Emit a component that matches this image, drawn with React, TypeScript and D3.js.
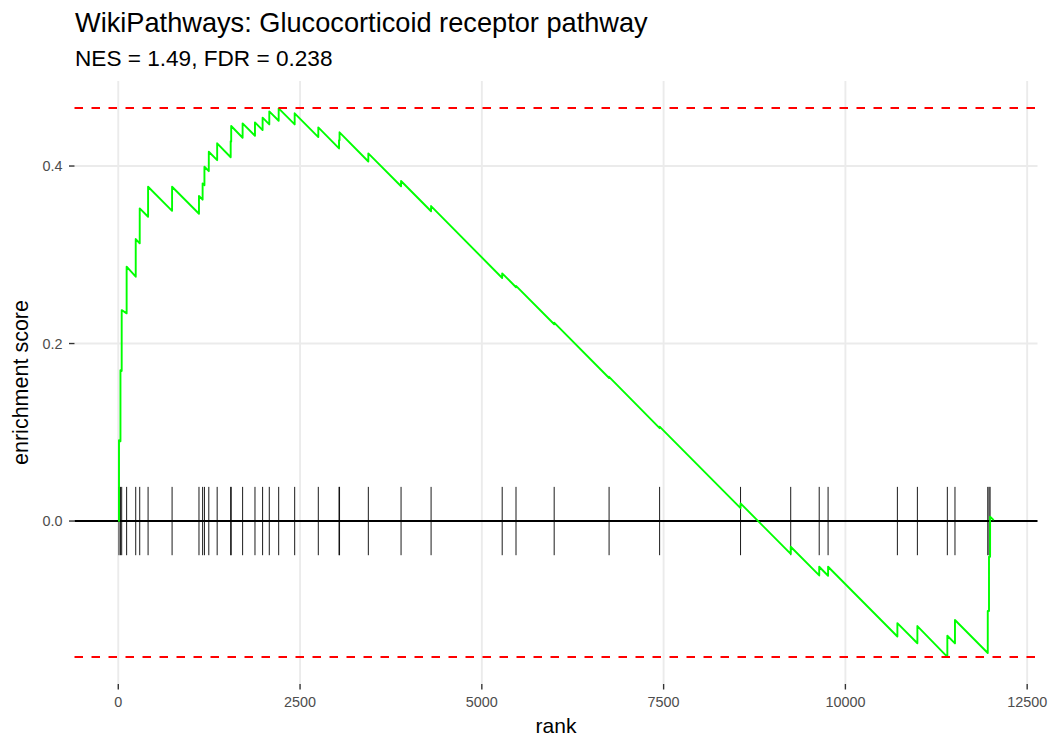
import React from 'react';
import * as d3 from 'd3';

// Gene set hit positions (rank)
const hitRanks = [10, 30, 47, 115, 240, 295, 410, 740, 1110, 1160, 1185, 1245, 1360, 1546, 1553, 1710, 1880, 1985, 2077, 2206, 2426, 2751, 3036, 3043, 3439, 3889, 4302, 5280, 5470, 5995, 6750, 7445, 8558, 9248, 9640, 9762, 10715, 10990, 11402, 11507, 11958, 11975, 11990];
// Running enrichment score just before each hit
const esBeforeHit = [0.0, 0.090, 0.169, 0.234, 0.2753, 0.3129, 0.3429, 0.3495, 0.3462, 0.3621, 0.3784, 0.3942, 0.4066, 0.4099, 0.4277, 0.4319, 0.4341, 0.4405, 0.4469, 0.4510, 0.4469, 0.4326, 0.4198, 0.4289, 0.4051, 0.3772, 0.3490, 0.2738, 0.2634, 0.2217, 0.1612, 0.1047, 0.0145, -0.0370, -0.0613, -0.0616, -0.1301, -0.1377, -0.1530, -0.1379, -0.1487, -0.1014, -0.0402];
// Running enrichment score just after each hit
const esAfterHit = [0.091, 0.170, 0.2377, 0.2866, 0.3177, 0.3523, 0.3767, 0.3767, 0.3662, 0.3805, 0.3992, 0.4161, 0.4256, 0.4280, 0.4451, 0.4481, 0.4492, 0.4545, 0.4616, 0.4650, 0.4594, 0.4436, 0.4290, 0.4380, 0.4143, 0.3831, 0.3549, 0.2791, 0.2650, 0.2235, 0.1625, 0.1063, 0.0199, -0.0290, -0.0515, -0.0515, -0.1150, -0.1183, -0.1292, -0.1115, -0.1014, -0.0402, 0.0050];
const totalGenes = 12040;
const esEnd = 0.001;

const maxES = 0.4654;
const minES = -0.1532;
const tickHalfHeight = 0.0385;

const xTicks = [0, 2500, 5000, 7500, 10000, 12500];
const yTicks = [0.0, 0.2, 0.4];

const titleText = 'WikiPathways: Glucocorticoid receptor pathway';
const subtitleText = 'NES = 1.49, FDR = 0.238';
const xTitle = 'rank';
const yTitle = 'enrichment score';

const W = 1050;
const H = 750;
const FONT = '"Liberation Sans", Arial, Helvetica, sans-serif';

export default function App() {
  const panel = { left: 74.5, right: 1037.5, top: 81, bottom: 684 };
  const x = d3.scaleLinear().domain([-602, 12642]).range([panel.left, panel.right]);
  const y = d3.scaleLinear().domain([-0.1836, 0.4958]).range([panel.bottom, panel.top]);

  const pts: [number, number][] = [[0, 0]];
  hitRanks.forEach((r, i) => {
    pts.push([r, esBeforeHit[i]]);
    pts.push([r, esAfterHit[i]]);
  });
  pts.push([totalGenes, esEnd]);

  const line = d3.line<[number, number]>().x(d => x(d[0])).y(d => y(d[1]));

  return (
    <svg width={W} height={H} style={{ position: 'absolute', left: 0, top: 0, background: '#fff' }}>
      <rect x={0} y={0} width={W} height={H} fill="#fff" />
      {/* grid */}
      {xTicks.map(t => (
        <line key={'gx' + t} x1={x(t)} x2={x(t)} y1={panel.top} y2={panel.bottom} stroke="#ebebeb" strokeWidth={1.9} />
      ))}
      {yTicks.map(t => (
        <line key={'gy' + t} x1={panel.left} x2={panel.right} y1={y(t)} y2={y(t)} stroke="#ebebeb" strokeWidth={1.9} />
      ))}
      {/* zero line */}
      <line x1={panel.left} x2={panel.right} y1={y(0)} y2={y(0)} stroke="#000" strokeWidth={1.9} />
      {/* hit ticks */}
      {hitRanks.map((r, i) => (
        <line key={'h' + i} x1={x(r)} x2={x(r)} y1={y(tickHalfHeight)} y2={y(-tickHalfHeight)} stroke="#000" strokeWidth={0.9} />
      ))}
      {/* running ES */}
      <path d={line(pts) || ''} fill="none" stroke="#00ff00" strokeWidth={1.9} strokeLinejoin="round" />
      {/* max / min dashed */}
      <line x1={panel.left} x2={panel.right} y1={y(maxES)} y2={y(maxES)} stroke="#ff0000" strokeWidth={1.9} strokeDasharray="8.5,8.5" />
      <line x1={panel.left} x2={panel.right} y1={y(minES)} y2={y(minES)} stroke="#ff0000" strokeWidth={1.9} strokeDasharray="8.5,8.5" />
      {/* axis ticks */}
      {yTicks.map(t => (
        <line key={'ty' + t} x1={panel.left - 5.5} x2={panel.left} y1={y(t)} y2={y(t)} stroke="#333" strokeWidth={1.4} />
      ))}
      {xTicks.map(t => (
        <line key={'tx' + t} x1={x(t)} x2={x(t)} y1={panel.bottom} y2={panel.bottom + 5.5} stroke="#333" strokeWidth={1.4} />
      ))}
      {/* tick labels */}
      {yTicks.map(t => (
        <text key={'ly' + t} x={panel.left - 12} y={y(t)} dy="0.35em" textAnchor="end" fontFamily={FONT} fontSize={14.4} fill="#4d4d4d">
          {d3.format('.1f')(t)}
        </text>
      ))}
      {xTicks.map(t => (
        <text key={'lx' + t} x={x(t)} y={panel.bottom + 18} dy="0.35em" textAnchor="middle" fontFamily={FONT} fontSize={14.4} fill="#4d4d4d">
          {String(t)}
        </text>
      ))}
      {/* axis titles */}
      <text x={(panel.left + panel.right) / 2} y={733} textAnchor="middle" fontFamily={FONT} fontSize={21} fill="#000">{xTitle}</text>
      <text transform={`translate(28,${(panel.top + panel.bottom) / 2}) rotate(-90)`} textAnchor="middle" fontFamily={FONT} fontSize={21.5} fill="#000">{yTitle}</text>
      {/* title */}
      <text x={75} y={32} fontFamily={FONT} fontSize={27.2} fill="#000">{titleText}</text>
      <text x={75} y={66} fontFamily={FONT} fontSize={22.6} fill="#000">{subtitleText}</text>
    </svg>
  );
}
